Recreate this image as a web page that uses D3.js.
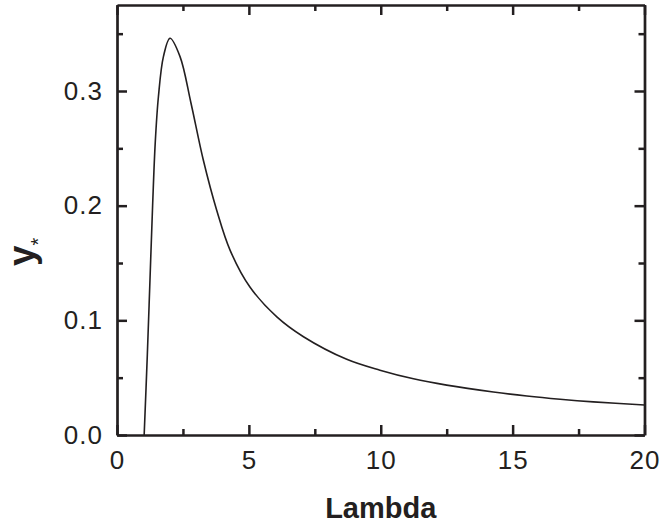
<!DOCTYPE html>
<html>
<head>
<meta charset="utf-8">
<script src="https://cdn.jsdelivr.net/npm/d3@7"></script>
<style>
  html, body { margin: 0; padding: 0; background: #fff; }
  svg { display: block; font-family: "Liberation Sans", Arial, sans-serif; }
</style>
</head>
<body>
<svg id="chart" width="664" height="525"></svg>
<script>
// Data
const lambdaValues = [1.03, 1.15, 1.25, 1.35, 1.45, 1.57, 1.76, 2.01, 2.39, 2.80, 3.27, 3.78, 4.29, 5.04, 6.06, 7.07, 8.71, 9.97, 11.24, 12.5, 14.27, 15.54, 16.8, 18.06, 20.0];
const yStarValues  = [0.000, 0.070, 0.135, 0.200, 0.255, 0.295, 0.330, 0.346, 0.330, 0.290, 0.240, 0.196, 0.161, 0.129, 0.103, 0.0857, 0.066, 0.0565, 0.049, 0.0435, 0.0375, 0.0340, 0.0312, 0.0289, 0.0262];
const xMajorTicks = [0, 5, 10, 15, 20];
const xMinorTicks = [2.5, 7.5, 12.5, 17.5];
const yMajorTicks = [0.0, 0.1, 0.2, 0.3];
const yMinorTicks = [0.05, 0.15, 0.25, 0.35];
const xLabel = "Lambda";

const ink = "#231f20";
const svg = d3.select("#chart");
const mLeft = 117, mRight = 644.5, mTop = 5, mBottom = 435;

const x = d3.scaleLinear().domain([0, 20]).range([mLeft, mRight]);
const y = d3.scaleLinear().domain([0, 0.375]).range([mBottom, mTop]);

function styleAxis(g) {
  g.selectAll("path.domain").attr("stroke", ink).attr("stroke-width", 2.7);
  g.selectAll(".tick line").attr("stroke", ink).attr("stroke-width", 2.5);
  g.selectAll(".tick text").attr("fill", ink);
}
function styleLabels(g) {
  g.selectAll("text")
    .attr("font-size", 26)
    .attr("letter-spacing", 1)
    .attr("font-family", "Liberation Sans, Arial, sans-serif");
}

// Bottom
svg.append("g").attr("transform", `translate(0,${mBottom})`)
  .call(d3.axisBottom(x).tickValues(xMajorTicks).tickSizeInner(-10).tickSizeOuter(0).tickPadding(16).tickFormat(d3.format("d")))
  .call(styleLabels)
  .call(styleAxis);
svg.append("g").attr("transform", `translate(0,${mBottom})`)
  .call(d3.axisBottom(x).tickValues(xMinorTicks).tickSizeInner(-6).tickSizeOuter(0).tickFormat(""))
  .call(styleAxis).call(g => g.select("path.domain").remove());
// Top
svg.append("g").attr("transform", `translate(0,${mTop})`)
  .call(d3.axisTop(x).tickValues(xMajorTicks).tickSizeInner(-10).tickSizeOuter(0).tickFormat(""))
  .call(styleAxis);
svg.append("g").attr("transform", `translate(0,${mTop})`)
  .call(d3.axisTop(x).tickValues(xMinorTicks).tickSizeInner(-6).tickSizeOuter(0).tickFormat(""))
  .call(styleAxis).call(g => g.select("path.domain").remove());
// Left
svg.append("g").attr("transform", `translate(${mLeft},0)`)
  .call(d3.axisLeft(y).tickValues(yMajorTicks).tickSizeInner(-10).tickSizeOuter(0).tickPadding(14).tickFormat(d3.format(".1f")))
  .call(styleLabels)
  .call(styleAxis);
svg.append("g").attr("transform", `translate(${mLeft},0)`)
  .call(d3.axisLeft(y).tickValues(yMinorTicks).tickSizeInner(-6).tickSizeOuter(0).tickFormat(""))
  .call(styleAxis).call(g => g.select("path.domain").remove());
// Right
svg.append("g").attr("transform", `translate(${mRight},0)`)
  .call(d3.axisRight(y).tickValues(yMajorTicks).tickSizeInner(-10).tickSizeOuter(0).tickFormat(""))
  .call(styleAxis);
svg.append("g").attr("transform", `translate(${mRight},0)`)
  .call(d3.axisRight(y).tickValues(yMinorTicks).tickSizeInner(-6).tickSizeOuter(0).tickFormat(""))
  .call(styleAxis).call(g => g.select("path.domain").remove());

// Curve
const pts = lambdaValues.map((l, i) => [l, yStarValues[i]]);
const line = d3.line().x(d => x(d[0])).y(d => y(d[1])).curve(d3.curveCatmullRom.alpha(0.5));
svg.append("path").datum(pts)
  .attr("d", line)
  .attr("fill", "none")
  .attr("stroke", ink)
  .attr("stroke-width", 1.6);

// Axis titles
svg.append("text")
  .attr("x", (mLeft + mRight) / 2)
  .attr("y", 518)
  .attr("text-anchor", "middle")
  .attr("font-size", 29)
  .attr("font-weight", "bold")
  .attr("fill", ink)
  .text(xLabel);

const yt = svg.append("text")
  .attr("transform", "translate(34,266) rotate(-90)")
  .attr("text-anchor", "start")
  .attr("font-weight", "bold")
  .attr("fill", ink);
yt.append("tspan").attr("font-size", 37).text("y");
yt.append("tspan").attr("font-size", 20).attr("font-weight", "normal").attr("dy", 11).text("*");
</script>
</body>
</html>
